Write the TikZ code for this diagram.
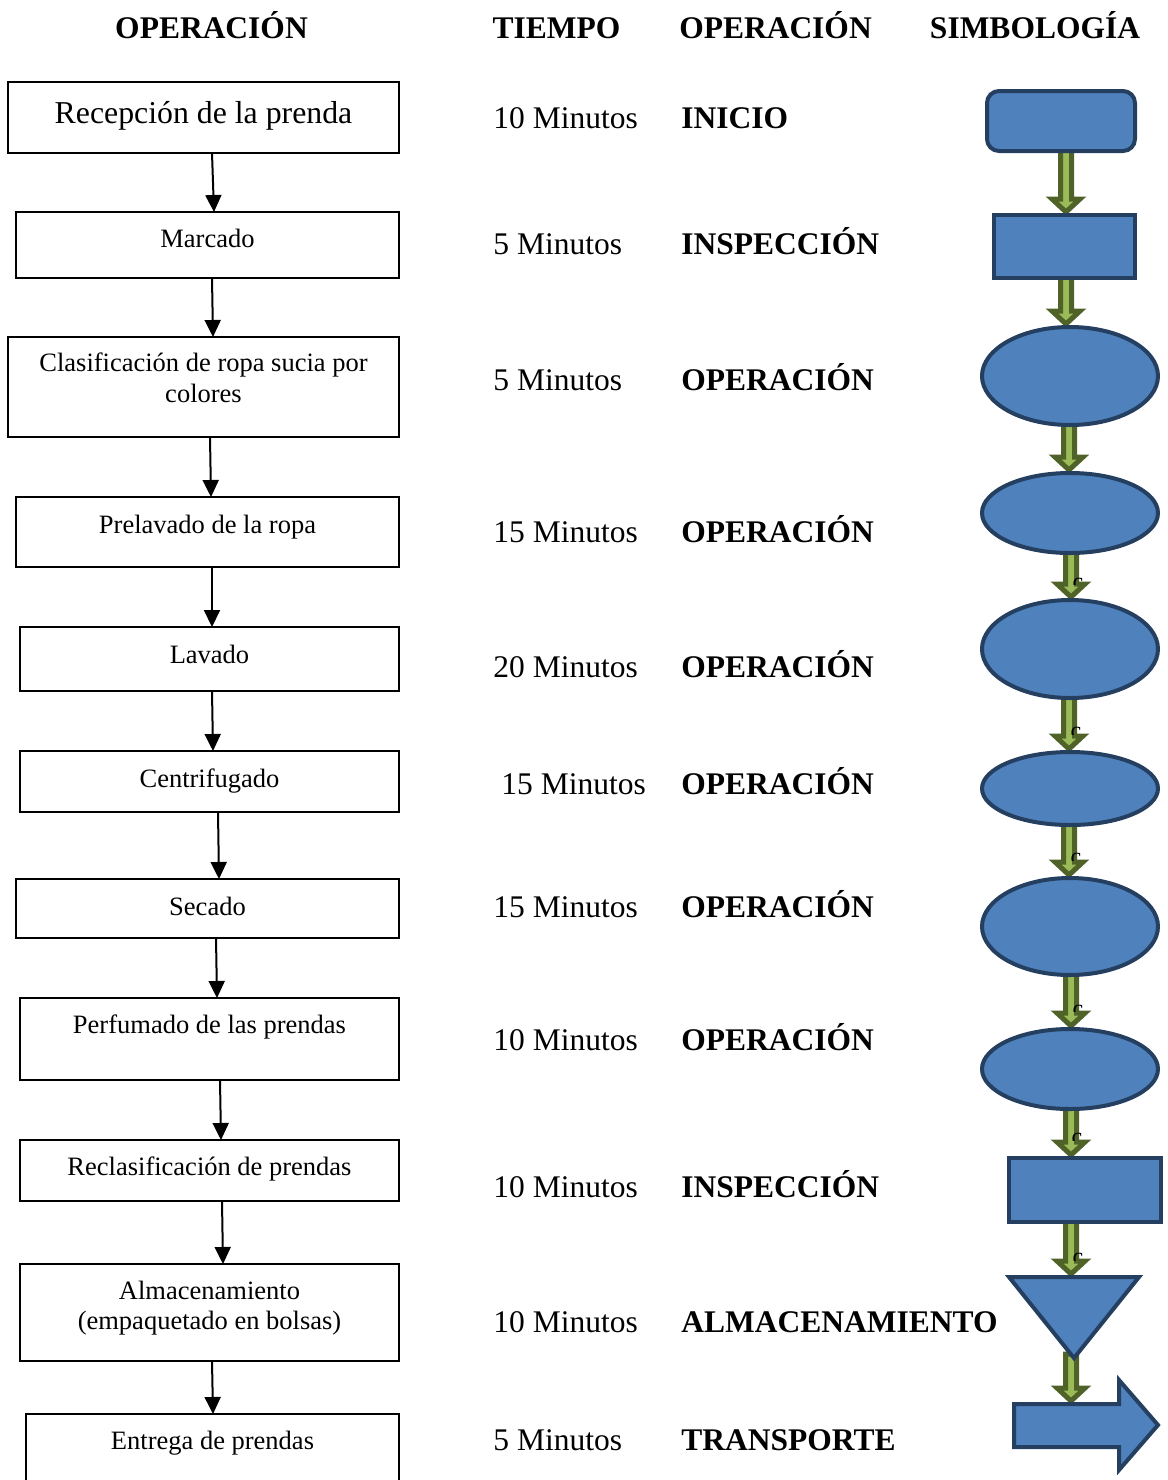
\documentclass[tikz,border=0pt]{standalone}
\usepackage{fontspec}
\setmainfont{Liberation Serif}
\usetikzlibrary{arrows.meta,calc,shapes.geometric}
\definecolor{sfill}{HTML}{4F81BD}
\definecolor{sline}{HTML}{243F60}
\definecolor{gdark}{HTML}{4F6228}
\definecolor{glight}{HTML}{9BBB59}
\pgfdeclarelayer{background}
\pgfsetlayers{background,main}
\newcommand\lbox[5]{\node[lbox, minimum width={(#4-#2)*0.5pt}, minimum height={(#5-#3)*0.5pt}] (#1) at ({(#2+#4)/2},{(#3+#5)/2}) {};}
\newcommand\garr[3]{\draw[gar] let \p1=(#1), \p2=(#2) in
  (#3*0.5pt-2.75pt,\y1+3pt) -- (#3*0.5pt-2.75pt,\y2+8pt) -- (#3*0.5pt-7pt,\y2+8pt) -- (#3*0.5pt,\y2+1.5pt)
  -- (#3*0.5pt+7pt,\y2+8pt) -- (#3*0.5pt+2.75pt,\y2+8pt) -- (#3*0.5pt+2.75pt,\y1+3pt) -- cycle;}
\newcommand\cmk[4]{\begin{scope}\clip (#2-14,#3-4) rectangle (#2+14,#4);
  \node[cmark] (#1) at (#2,#3) {c};\end{scope}}
\begin{document}
\begin{tikzpicture}[x=0.5pt,y=-0.5pt,
 lbox/.style={draw=black,line width=1pt,inner sep=0,outer sep=0},
 btxt/.style={inner sep=0,anchor=base,font=\fontsize{13.25}{15.5}\selectfont,align=center},
 hdr/.style={inner sep=0,anchor=base,font=\fontsize{15.75}{18}\selectfont\bfseries},
 tm/.style={inner sep=0,anchor=base west,font=\fontsize{15.75}{18}\selectfont},
 op/.style={inner sep=0,anchor=base west,font=\fontsize{15.75}{18}\selectfont\bfseries},
 larr/.style={line width=1pt,-{Triangle[width=8pt,length=8.5pt]}},
 sym/.style={draw=sline,fill=sfill,line width=2pt,inner sep=0,outer sep=0},
 gar/.style={draw=gdark,fill=glight,line width=2.5pt,line join=miter},
 cmark/.style={inner sep=0,anchor=north,font=\fontsize{12}{12}\selectfont}
]
\useasboundingbox (0,0) rectangle (1168,1480);
% headers
\node[hdr] (h1) at (211.5,38) {OPERACIÓN};
\node[hdr] (h2) at (556.5,38) {TIEMPO};
\node[hdr] (h3) at (775.5,38) {OPERACIÓN};
\node[hdr] (h4) at (1035,38) {SIMBOLOGÍA};
% left boxes
\lbox{b1}{8}{82}{399}{153}
\lbox{b2}{16}{212}{399}{278}
\lbox{b3}{8}{337}{399}{437}
\lbox{b4}{16}{497}{399}{567}
\lbox{b5}{20}{627}{399}{691}
\lbox{b6}{20}{751}{399}{812}
\lbox{b7}{16}{879}{399}{938}
\lbox{b8}{20}{998}{399}{1080}
\lbox{b9}{20}{1140}{399}{1201}
\lbox{b10}{20}{1264}{399}{1361}
\lbox{b11}{26}{1414}{399}{1500}
\node[btxt,font=\fontsize{15.9}{18}\selectfont] (t1) at (203.5,123) {Recepción de la prenda};
\node[btxt] (t2) at (207.5,247) {Marcado};
\node[btxt,anchor=center] (t3) at (203.5,378) {Clasificación de ropa sucia por\\colores};
\node[btxt] (t4) at (207.5,533) {Prelavado de la ropa};
\node[btxt] (t5) at (209.5,663) {Lavado};
\node[btxt] (t6) at (209.5,787) {Centrifugado};
\node[btxt] (t7) at (207.5,915) {Secado};
\node[btxt] (t8) at (209.5,1033) {Perfumado de las prendas};
\node[btxt] (t9) at (209.5,1175) {Reclasificación de prendas};
\node[btxt,anchor=center,font=\fontsize{13.25}{15}\selectfont] (t10) at (209.5,1308) {Almacenamiento\\(empaquetado en bolsas)};
\node[btxt] (t11) at (212.5,1449) {Entrega de prendas};
% left arrows
\draw[larr] ([xshift=4.25pt]b1.south) -- ([xshift=3.25pt]b2.north);
\draw[larr] ([xshift=2.25pt]b2.south) -- ([xshift=4.75pt]b3.north);
\draw[larr] ([xshift=3.25pt]b3.south) -- ([xshift=1.75pt]b4.north);
\draw[larr] ([xshift=2.25pt]b4.south) -- ([xshift=1.25pt]b5.north);
\draw[larr] ([xshift=1.25pt]b5.south) -- ([xshift=1.75pt]b6.north);
\draw[larr] ([xshift=4.25pt]b6.south) -- ([xshift=5.75pt]b7.north);
\draw[larr] ([xshift=4.25pt]b7.south) -- ([xshift=3.75pt]b8.north);
\draw[larr] ([xshift=5.25pt]b8.south) -- ([xshift=5.75pt]b9.north);
\draw[larr] ([xshift=6.25pt]b9.south) -- ([xshift=6.75pt]b10.north);
\draw[larr] ([xshift=1.25pt]b10.south) -- ([xshift=0.25pt]b11.north);
% time column
\node[tm] (m1) at (493,128) {10 Minutos};
\node[tm] (m2) at (493,254) {5 Minutos};
\node[tm] (m3) at (493,390) {5 Minutos};
\node[tm] (m4) at (493,542) {15 Minutos};
\node[tm] (m5) at (493,677) {20 Minutos};
\node[tm] (m6) at (501,794) {15 Minutos};
\node[tm] (m7) at (493,917) {15 Minutos};
\node[tm] (m8) at (493,1050) {10 Minutos};
\node[tm] (m9) at (493,1197) {10 Minutos};
\node[tm] (m10) at (493,1332) {10 Minutos};
\node[tm] (m11) at (493,1450) {5 Minutos};
% operation column
\node[op] (o1) at (681,128) {INICIO};
\node[op] (o2) at (681,254) {INSPECCIÓN};
\node[op] (o3) at (681,390) {OPERACIÓN};
\node[op] (o4) at (681,542) {OPERACIÓN};
\node[op] (o5) at (681,677) {OPERACIÓN};
\node[op] (o6) at (681,794) {OPERACIÓN};
\node[op] (o7) at (681,917) {OPERACIÓN};
\node[op] (o8) at (681,1050) {OPERACIÓN};
\node[op] (o9) at (681,1197) {INSPECCIÓN};
\node[op] (o10) at (681,1332) {ALMACENAMIENTO};
\node[op] (o11) at (681,1450) {TRANSPORTE};
% symbols
\node[sym,rectangle,rounded corners=6pt,minimum width=74pt,minimum height=30pt] (s1) at (1061,121) {};
\node[sym,rectangle,minimum width=70.5pt,minimum height=31.5pt] (s2) at (1064.5,246.5) {};
\node[sym,ellipse,minimum width=88pt,minimum height=49pt] (s3) at (1070,376) {};
\node[sym,ellipse,minimum width=88pt,minimum height=40pt] (s4) at (1070,513) {};
\node[sym,ellipse,minimum width=88pt,minimum height=49pt] (s5) at (1070,649) {};
\node[sym,ellipse,minimum width=88pt,minimum height=36.5pt] (s6) at (1070,788.5) {};
\node[sym,ellipse,minimum width=88pt,minimum height=48.5pt] (s7) at (1070,926.5) {};
\node[sym,ellipse,minimum width=88pt,minimum height=40pt] (s8) at (1070,1069) {};
\node[sym,rectangle,minimum width=76pt,minimum height=32pt] (s9) at (1085,1190) {};
\draw[sym,line join=miter] (1009,1277) -- (1139,1277) -- (1074,1358) -- cycle;
\coordinate (s10top) at (1074,1277);
\coordinate (s10tip) at (1074,1360);
\draw[sym,line join=miter] (1014,1404) -- (1119,1404) -- (1119,1380) -- (1158,1425) -- (1119,1470) -- (1119,1447) -- (1014,1447) -- cycle;
\coordinate (s11top) at (1071,1404);
% green block arrows
\begin{pgfonlayer}{background}
\garr{s1.south}{s2.north}{1066}
\garr{s2.south}{s3.north}{1066}
\garr{s3.south}{s4.north}{1069}
\garr{s4.south}{s5.north}{1071}
\garr{s5.south}{s6.north}{1069}
\garr{s6.south}{s7.north}{1069}
\garr{s7.south}{s8.north}{1071}
\garr{s8.south}{s9.north}{1071}
\garr{s9.south}{s10top}{1071}
\garr{s10tip}{s11top}{1071}
\end{pgfonlayer}
% small marks, cut off by the arrow heads
\cmk{c1}{1078}{578}{584}
\cmk{c2}{1076}{727}{734}
\cmk{c3}{1076}{853}{860}
\cmk{c4}{1078}{1005}{1011}
\cmk{c5}{1077}{1133}{1140}
\cmk{c6}{1078}{1253}{1260}
\end{tikzpicture}
\end{document}
